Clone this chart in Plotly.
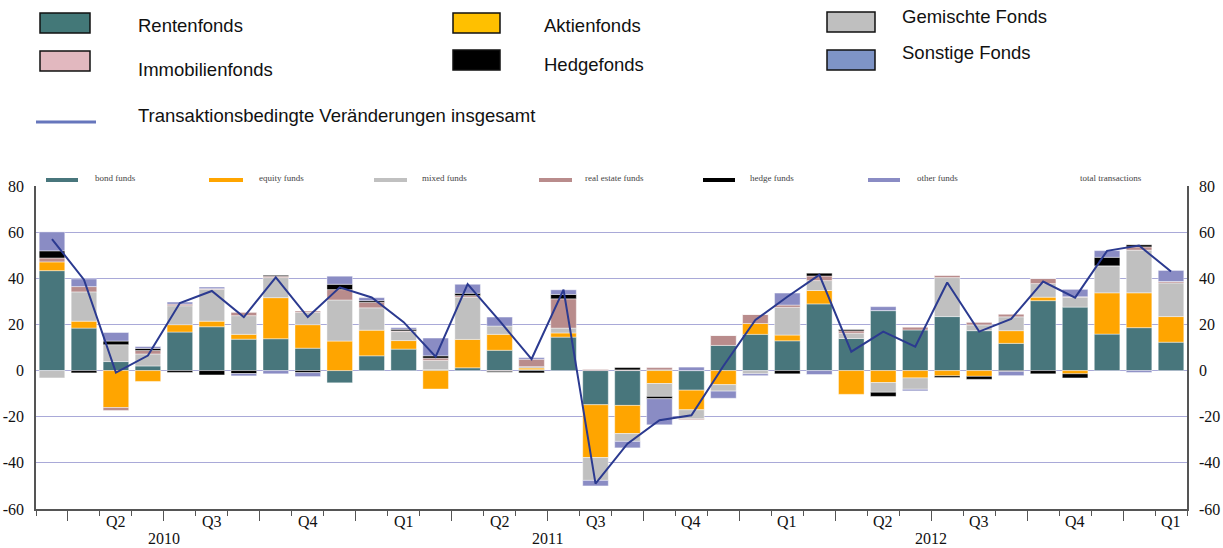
import plotly.graph_objects as go

# ---------------- data (monthly, Mar 2010 .. Feb 2013) ----------------
months = list(range(36))

rentenfonds = [43.3, 18.4, 3.9, 2.0, 16.7, 19.0, 13.6, 13.8, 9.7, -5.3, 6.4, 9.3,
               0.4, 1.2, 8.8, 0.4, 14.5, -14.8, -15.1, 0.3, -8.5, 10.9, 15.7, 12.9,
               28.9, 13.9, 26.0, 17.6, 23.4, 17.3, 11.8, 30.3, 27.5, 15.8, 18.6, 12.3]
aktienfonds = [3.8, 3.0, -16.0, -4.7, 3.2, 2.4, 2.1, 17.8, 10.2, 12.8, 11.1, 3.7,
               -8.0, 12.3, 6.9, 0.7, 1.8, -22.9, -12.2, -5.6, -8.5, -6.1, 4.7, 2.5,
               5.8, -10.3, -5.2, -3.2, -2.3, -2.5, 5.5, 1.5, -1.4, 17.9, 15.1, 11.1]
gemischte = [-3.2, 12.7, 7.3, 5.2, 8.2, 13.8, 8.1, 8.7, 5.3, 17.8, 9.7, 3.9,
             4.0, 18.3, 3.6, 0.6, 2.1, -9.9, -3.4, -5.6, -3.9, -2.8, -1.4, 12.0,
             4.3, 2.3, -4.2, -4.9, 16.9, 2.5, 6.0, 5.9, 4.3, 11.7, 18.5, 14.6]
immobilien = [1.7, 2.3, -1.3, 1.5, 0.7, 0.3, 1.4, 0.6, 0.6, 4.5, 2.4, 0.3,
              1.0, 0.7, -0.3, 3.2, 12.7, 0.6, 0.3, 1.0, -0.4, 4.3, 3.9, 1.0,
              2.0, 1.0, 0.0, 1.3, 1.0, 1.2, 1.1, 2.2, 0.2, 0.0, 1.4, 0.6]
hedgefonds = [3.1, -1.0, 1.6, 0.9, -0.8, -1.9, -1.3, 0.4, -0.9, 2.3, 0.7, 0.7,
              1.0, 1.0, -0.4, -1.0, 1.9, 0.0, 1.0, -1.0, 0.0, 0.0, 0.0, -1.4,
              1.2, 0.7, -1.8, 0.0, -0.7, -1.3, -0.4, -1.4, -1.8, 3.7, 0.9, 0.0]
sonstige = [8.2, 3.3, 3.7, 0.8, 0.9, 0.7, -1.0, -1.4, -1.7, 3.5, 1.3, 0.7,
            7.7, 3.9, 3.9, 0.7, 2.0, -2.4, -2.8, -11.3, 1.5, -3.1, -0.8, 5.2,
            -1.7, 0.0, 1.7, -0.7, 0.0, 0.0, -1.8, 0.0, 3.2, 2.9, -0.8, 4.8]
insgesamt = [57.0, 39.4, -0.9, 6.5, 29.3, 34.5, 23.2, 40.4, 23.2, 36.1, 31.7, 21.0,
             6.0, 37.5, 21.5, 5.0, 35.1, -49.0, -31.7, -21.5, -19.4, 2.0, 21.9, 32.0,
             41.5, 8.2, 16.9, 10.4, 38.2, 16.9, 22.4, 38.6, 31.6, 51.9, 54.2, 42.9]

quarter_labels = ["Q2", "Q3", "Q4", "Q1", "Q2", "Q3", "Q4", "Q1", "Q2", "Q3", "Q4", "Q1"]
quarter_pos = [2, 5, 8, 11, 14, 17, 20, 23, 26, 29, 32, 35]
year_labels = ["2010", "2011", "2012"]
year_pos = [3.5, 15.5, 27.5]
y_ticks = [-60, -40, -20, 0, 20, 40, 60, 80]
y_ticktext = ["-60", "-40", "-20", "0", "20", "40", "60", "80"]

series = [
    ("Rentenfonds", rentenfonds, "#48767C"),
    ("Aktienfonds", aktienfonds, "#FFA500"),
    ("Gemischte Fonds", gemischte, "#C0C0C0"),
    ("Immobilienfonds", immobilien, "#B98C8C"),
    ("Hedgefonds", hedgefonds, "#000000"),
    ("Sonstige Fonds", sonstige, "#8A8CC4"),
]

W, H = 1223, 548
L, R, T, B = 36, 1187, 186, 509


def px(X):
    return (X - L) / (R - L)


def py(Y):
    return (B - Y) / (B - T)


fig = go.Figure()
for name, vals, col in series:
    fig.add_trace(go.Bar(x=months, y=vals, name=name, marker_color=col,
                         marker_line=dict(color="rgba(255,255,255,0.7)", width=0.6),
                         width=0.8, showlegend=False))

fig.add_trace(go.Scatter(x=months, y=insgesamt, mode="lines", yaxis="y2",
                         line=dict(color="#2B3A90", width=2), showlegend=False,
                         name="Transaktionsbedingte Veränderungen insgesamt"))

serif = "Liberation Serif, Times New Roman, serif"
sans = "Liberation Sans, Arial, sans-serif"

fig.update_layout(
    template="none",
    width=W, height=H, autosize=False,
    margin=dict(l=L, r=W - R, t=T, b=H - B, pad=0, autoexpand=False),
    paper_bgcolor="white", plot_bgcolor="white",
    barmode="relative", bargap=0.2,
    xaxis=dict(range=[-0.5, 35.5], showgrid=False, zeroline=False, automargin=False,
               showline=True, linecolor="#555555", linewidth=1.5,
               tickmode="array", tickvals=[0.5 + 3 * k for k in range(12)],
               ticktext=[""] * 12, ticks="outside", ticklen=10, tickcolor="#555555",
               tickwidth=1.2,
               minor=dict(tick0=-0.5, dtick=1, ticks="outside", ticklen=5,
                          tickcolor="#555555", tickwidth=1.2, showgrid=False)),
    yaxis=dict(range=[-60, 80], tickmode="array", tickvals=y_ticks, ticktext=y_ticktext,
               automargin=False,
               showgrid=True, gridcolor="#A9A9D8", gridwidth=1.3, zeroline=False,
               showline=True, linecolor="#555555", linewidth=1.5, ticks="",
               tickfont=dict(family=serif, size=16, color="#111111"),
               ticklabelstandoff=7),
    yaxis2=dict(range=[-60, 80], overlaying="y", side="right", tickmode="array",
                tickvals=y_ticks, ticktext=y_ticktext,
                showgrid=False, zeroline=False, automargin=False,
                showline=True, linecolor="#555555", linewidth=1.5, ticks="",
                tickfont=dict(family=serif, size=16, color="#111111"),
                ticklabelstandoff=7),
)

ann = []
for lab, pos in zip(quarter_labels, quarter_pos):
    ann.append(dict(x=pos, xref="x", y=py(521), yref="paper", text=lab,
                    showarrow=False, xanchor="center", yanchor="middle",
                    font=dict(family=serif, size=16, color="#111111")))
for lab, pos in zip(year_labels, year_pos):
    ann.append(dict(x=pos, xref="x", y=py(538), yref="paper", text=lab,
                    showarrow=False, xanchor="center", yanchor="middle",
                    font=dict(family=serif, size=16, color="#111111")))

shapes = []
# main legend (top)
legend_items = [
    ("Rentenfonds", "#437878", 40, 90, 13, 33, 139, 25),
    ("Immobilienfonds", "#E2B8BF", 40, 90, 51, 71, 139, 69),
    ("Aktienfonds", "#FFC000", 453, 500, 13, 33, 545, 25),
    ("Hedgefonds", "#000000", 453, 500, 50, 70, 545, 64),
    ("Gemischte Fonds", "#BFBFBF", 827, 875, 12, 32, 903, 17),
    ("Sonstige Fonds", "#7E94C6", 827, 875, 50, 70, 903, 53),
]
for name, col, x0, x1, y0, y1, tx, ty in legend_items:
    shapes.append(dict(type="rect", xref="paper", yref="paper",
                       x0=px(x0), x1=px(x1), y0=py(y1), y1=py(y0),
                       fillcolor=col, line=dict(color="#111111", width=1.5)))
    ann.append(dict(x=px(tx - 3), xref="paper", y=py(ty), yref="paper", text=name,
                    showarrow=False, xanchor="left", yanchor="middle",
                    font=dict(family=sans, size=18.5, color="#111111")))
shapes.append(dict(type="line", xref="paper", yref="paper",
                   x0=px(36), x1=px(96), y0=py(122), y1=py(122),
                   line=dict(color="#6676BC", width=3)))
ann.append(dict(x=px(136), xref="paper", y=py(116), yref="paper",
                text="Transaktionsbedingte Veränderungen insgesamt",
                showarrow=False, xanchor="left", yanchor="middle",
                font=dict(family=sans, size=18.5, color="#111111")))

# cut-off legend strip of the embedded chart
strip = [
    ("bond funds", "#48767C", 46, 78, 93),
    ("equity funds", "#FFA500", 209, 243, 257),
    ("mixed funds", "#C0C0C0", 374, 407, 420),
    ("real estate funds", "#B98C8C", 539, 572, 583),
    ("hedge funds", "#000000", 703, 735, 748),
    ("other funds", "#8A8CC4", 868, 900, 915),
    ("total transactions", None, None, None, 1078),
]
for name, col, x0, x1, tx in strip:
    if col:
        shapes.append(dict(type="line", xref="paper", yref="paper",
                           x0=px(x0), x1=px(x1), y0=py(180), y1=py(180),
                           line=dict(color=col, width=4)))
    ann.append(dict(x=px(tx), xref="paper", y=py(178), yref="paper", text=name,
                    showarrow=False, xanchor="left", yanchor="middle",
                    font=dict(family=serif, size=9, color="#444444")))

fig.update_layout(annotations=ann, shapes=shapes)
fig.write_html("out.html", config={"displayModeBar": False},
               post_script="document.body.style.margin='0';document.body.style.overflow='hidden';")
